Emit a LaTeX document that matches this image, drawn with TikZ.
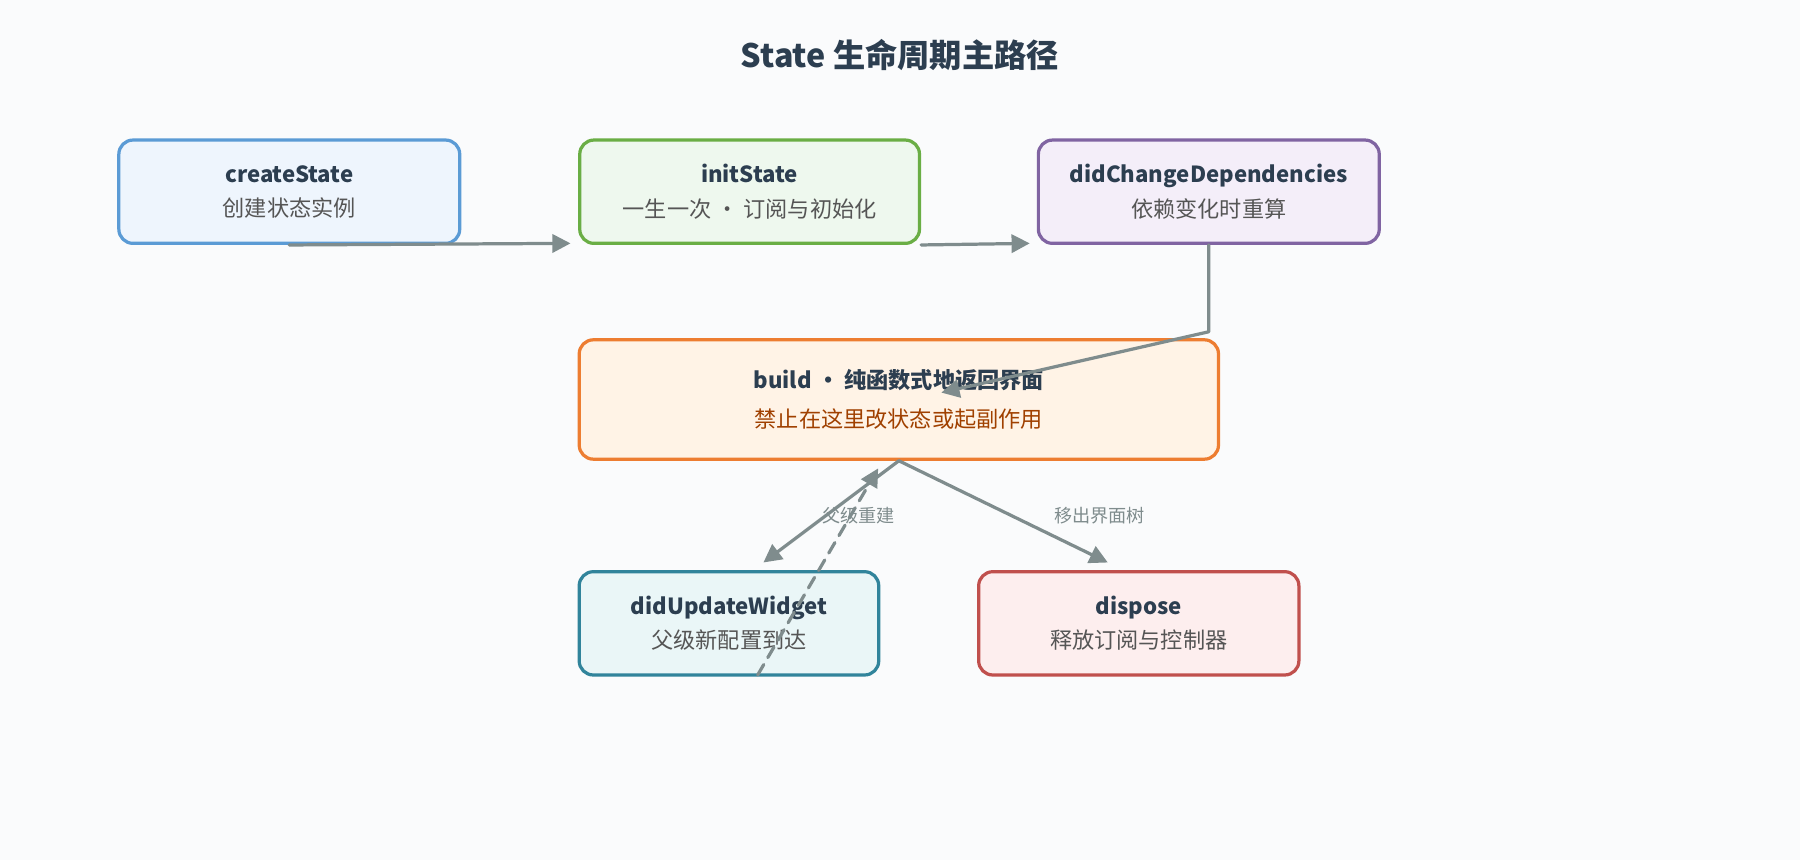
\documentclass[tikz,border=0pt]{standalone}
\usepackage{fontspec}
\setmainfont{Noto Sans CJK SC}
\usetikzlibrary{arrows.meta}
\definecolor{bgcol}{HTML}{FAFBFC}
\definecolor{titlecol}{HTML}{2C3E50}
\definecolor{subcol}{HTML}{555555}
\definecolor{linkcol}{HTML}{7F8C8D}
\definecolor{createline}{HTML}{5B9BD5}\definecolor{createfill}{HTML}{EEF5FD}
\definecolor{initline}{HTML}{6AAE45}\definecolor{initfill}{HTML}{EEF8EE}
\definecolor{depsline}{HTML}{8064A2}\definecolor{depsfill}{HTML}{F4EEF9}
\definecolor{buildline}{HTML}{ED7D31}\definecolor{buildfill}{HTML}{FFF3E6}
\definecolor{buildwarn}{HTML}{A04000}
\definecolor{updateline}{HTML}{31849B}\definecolor{updatefill}{HTML}{EAF6F7}
\definecolor{disposeline}{HTML}{C0504D}\definecolor{disposefill}{HTML}{FDEEEE}
\tikzset{
  stage/.style={draw, line width=1.6pt, rounded corners=7pt, align=center,
    inner sep=0pt, font=\fontsize{11}{17}\selectfont, text=titlecol},
  link/.style={draw=linkcol, line width=1.6pt, -{Triangle[length=9pt,width=9pt]}},
  note/.style={font=\fontsize{9}{11}\selectfont, text=linkcol}
}
\begin{document}
\begin{tikzpicture}[x=0.02cm, y=-0.02cm, line cap=round, line join=round]
  \fill[bgcol] (0,0) rectangle (1568,749);
  \useasboundingbox (0,0) rectangle (1568,749);

  \node[font=\bfseries\fontsize{16}{18}\selectfont, text=titlecol] (title) at (784,48) {State 生命周期主路径};

  \node[stage, draw=createline, fill=createfill, minimum width=5.94cm, minimum height=1.8cm] (create) at (252,167)
    {\textbf{createState}\\{\color{subcol}创建状态实例}};
  \node[stage, draw=initline, fill=initfill, minimum width=5.92cm, minimum height=1.8cm] (init) at (653,167)
    {\textbf{initState}\\{\color{subcol}一生一次 · 订阅与初始化}};
  \node[stage, draw=depsline, fill=depsfill, minimum width=5.94cm, minimum height=1.8cm] (deps) at (1053,167)
    {\textbf{didChangeDependencies}\\{\color{subcol}依赖变化时重算}};
  \node[stage, draw=buildline, fill=buildfill, minimum width=11.14cm, minimum height=2.08cm] (build) at (783,348)
    {\textbf{build • 纯函数式地返回界面}\\[2pt]{\color{buildwarn}禁止在这里改状态或起副作用}};
  \node[stage, draw=updateline, fill=updatefill, minimum width=5.22cm, minimum height=1.8cm] (update) at (635,543)
    {\textbf{didUpdateWidget}\\{\color{subcol}父级新配置到达}};
  \node[stage, draw=disposeline, fill=disposefill, minimum width=5.58cm, minimum height=1.8cm] (dispose) at (992,543)
    {\textbf{dispose}\\{\color{subcol}释放订阅与控制器}};

  \coordinate (c1) at (497,212);
  \coordinate (c2) at (897,212);
  \coordinate (c3) at (1053,289);
  \coordinate (c4) at (820,342);
  \coordinate (c5) at (665,490);
  \coordinate (c6) at (965,490);
  \coordinate (c7) at (660,588);
  \coordinate (c8) at (765,408);

  \draw[link] (create.south) -- (c1);
  \draw[link] (init.south east) -- (c2);
  \draw[link] (deps.south) -- (c3) -- (c4);
  \draw[link] (build.south) -- (c5);
  \draw[link] (build.south) -- (c6);
  \draw[link, dashed, dash pattern=on 6pt off 4pt] (c7) -- (c8);

  \node[note] (lbl1) at (748,449) {父级重建};
  \node[note] (lbl2) at (958,449) {移出界面树};
\end{tikzpicture}
\end{document}
